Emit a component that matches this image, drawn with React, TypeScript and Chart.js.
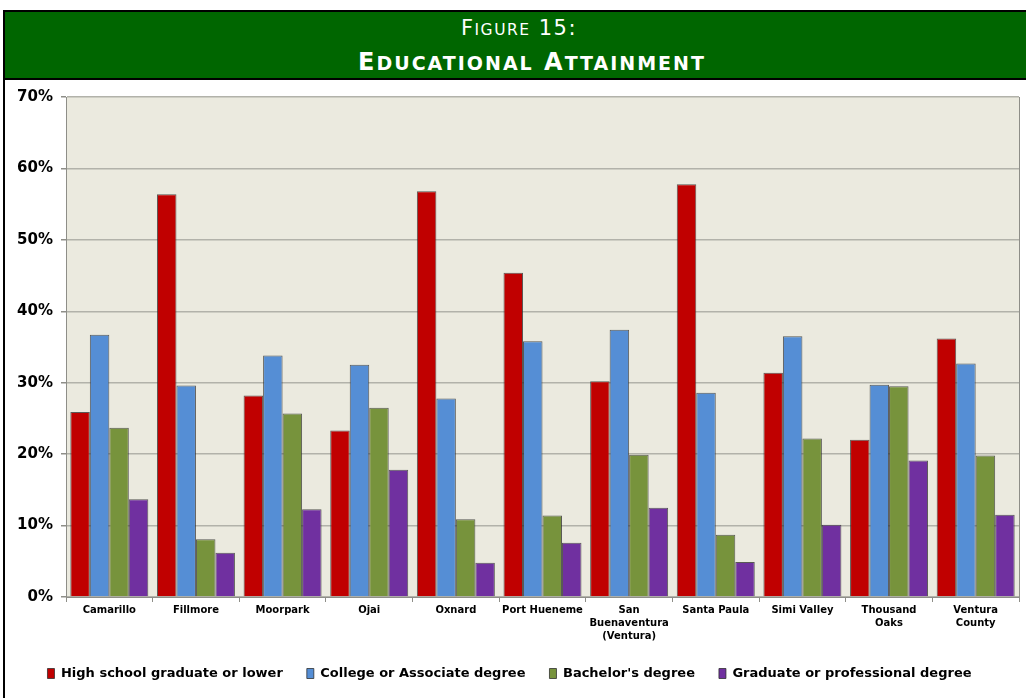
import React, { useEffect, useRef } from "react";
import { Chart, registerables } from "chart.js";

Chart.register(...registerables);

const categories: (string | string[])[] = [
  "Camarillo",
  "Fillmore",
  "Moorpark",
  "Ojai",
  "Oxnard",
  "Port Hueneme",
  ["San", "Buenaventura", "(Ventura)"],
  "Santa Paula",
  "Simi Valley",
  ["Thousand", "Oaks"],
  ["Ventura", "County"],
];

const highSchool = [25.9, 56.4, 28.2, 23.3, 56.8, 45.4, 30.2, 57.8, 31.4, 22.0, 36.2];
const college = [36.7, 29.6, 33.8, 32.5, 27.8, 35.8, 37.4, 28.6, 36.5, 29.7, 32.7];
const bachelors = [23.7, 8.1, 25.7, 26.5, 10.9, 11.4, 19.9, 8.7, 22.2, 29.5, 19.8];
const graduate = [13.7, 6.2, 12.3, 17.8, 4.8, 7.6, 12.5, 4.9, 10.1, 19.1, 11.5];

const seriesNames = [
  "High school graduate or lower",
  "College or Associate degree",
  "Bachelor's degree",
  "Graduate or professional degree",
];
const seriesColors = ["#C00000", "#558ED5", "#77933C", "#7030A0"];

const yTicks = [0, 10, 20, 30, 40, 50, 60, 70];

const plotBg = {
  id: "plotBg",
  beforeDraw(chart: any) {
    const { ctx, chartArea } = chart;
    ctx.save();
    ctx.fillStyle = "#EBEADF";
    ctx.fillRect(chartArea.left, chartArea.top, chartArea.right - chartArea.left, chartArea.bottom - chartArea.top);
    ctx.restore();
  },
  afterDatasetsDraw(chart: any) {
    const { ctx, chartArea } = chart;
    ctx.save();
    ctx.strokeStyle = "#8E8E88";
    ctx.lineWidth = 1;
    ctx.beginPath();
    ctx.moveTo(chartArea.right + 0.5, chartArea.top);
    ctx.lineTo(chartArea.right + 0.5, chartArea.bottom);
    ctx.stroke();
    ctx.restore();
  },
};

const titleFont = "'DejaVu Sans', Verdana, sans-serif";

export default function App() {
  const ref = useRef<HTMLCanvasElement | null>(null);

  useEffect(() => {
    if (!ref.current) return;
    const data = [highSchool, college, bachelors, graduate];
    const chart = new Chart(ref.current, {
      type: "bar",
      data: {
        labels: categories,
        datasets: data.map((d, i) => ({
          label: seriesNames[i],
          data: d,
          backgroundColor: seriesColors[i],
          borderColor: "rgba(40,40,40,0.75)",
          borderWidth: 1,
          categoryPercentage: 0.9,
          barPercentage: 1.0,
        })),
      },
      options: {
        animation: false,
        responsive: false,
        maintainAspectRatio: false,
        layout: { padding: { left: 0, right: 7, top: 17, bottom: 8 } },
        plugins: {
          tooltip: { enabled: false },
          legend: {
            position: "bottom",
            labels: {
              boxWidth: 7,
              boxHeight: 10,
              padding: 24,
              color: "#000",
              font: { family: "'DejaVu Sans', Verdana, sans-serif", size: 13, weight: "bold" },
            },
          },
        },
        scales: {
          x: {
            grid: {
              drawOnChartArea: false,
              drawTicks: true,
              tickLength: 5,
              offset: true,
              color: "#8E8E88",
            },
            border: { color: "#8E8E88", width: 1 },
            ticks: {
              color: "#000",
              maxRotation: 0,
              autoSkip: false,
              padding: 2,
              font: { family: "'DejaVu Sans', Verdana, sans-serif", size: 10, weight: "bold", lineHeight: 1.3 },
            },
            afterFit(scale: any) {
              scale.height = 46;
            },
          },
          y: {
            min: 0,
            max: 70,
            afterBuildTicks(scale: any) {
              scale.ticks = yTicks.map((v) => ({ value: v }));
            },
            grid: {
              color: "#B2B2AA",
              lineWidth: 1.5,
              drawTicks: true,
              tickLength: 5,
              tickColor: "#8E8E88",
            },
            border: { color: "#8E8E88", width: 1 },
            ticks: {
              color: "#000",
              padding: 8,
              callback: (v: any) => v + "%",
              font: { family: "'DejaVu Sans', Verdana, sans-serif", size: 15, weight: "bold" },
            },
            afterFit(scale: any) {
              scale.width = 66;
            },
          },
        },
      },
      plugins: [plotBg],
    } as any);
    return () => chart.destroy();
  }, []);

  return (
    <div style={{ position: "fixed", left: 0, top: 0, width: 1026, height: 698, background: "#fff", overflow: "hidden" }}>
      <div
        style={{
          position: "absolute",
          left: 3,
          top: 10,
          width: 1040,
          height: 66,
          background: "#006600",
          border: "2px solid #000",
        }}
      />
      <div
        style={{
          position: "absolute",
          left: 3,
          top: 76,
          width: 2,
          height: 640,
          background: "#000",
        }}
      />
      <div
        style={{
          position: "absolute",
          left: 518 - 500 + 1,
          top: 18,
          width: 1000,
          textAlign: "center",
          color: "#fff",
          fontFamily: titleFont,
          fontSize: 21,
          lineHeight: "21px",
          letterSpacing: 1.5,
          whiteSpace: "nowrap",
        }}
      >
        <span>F</span>
        <span style={{ fontSize: 15.5 }}>IGURE</span>
        <span> 15:</span>
      </div>
      <div
        style={{
          position: "absolute",
          left: 531 - 500 + 1,
          top: 50,
          width: 1000,
          textAlign: "center",
          color: "#fff",
          fontFamily: titleFont,
          fontWeight: "bold",
          fontSize: 24,
          lineHeight: "24px",
          letterSpacing: 2,
          whiteSpace: "nowrap",
        }}
      >
        <span>E</span>
        <span style={{ fontSize: 19 }}>DUCATIONAL</span>
        <span> A</span>
        <span style={{ fontSize: 19 }}>TTAINMENT</span>
      </div>
      <canvas ref={ref} width={1026} height={618} style={{ position: "absolute", left: 0, top: 80, width: 1026, height: 618 }} />
    </div>
  );
}
